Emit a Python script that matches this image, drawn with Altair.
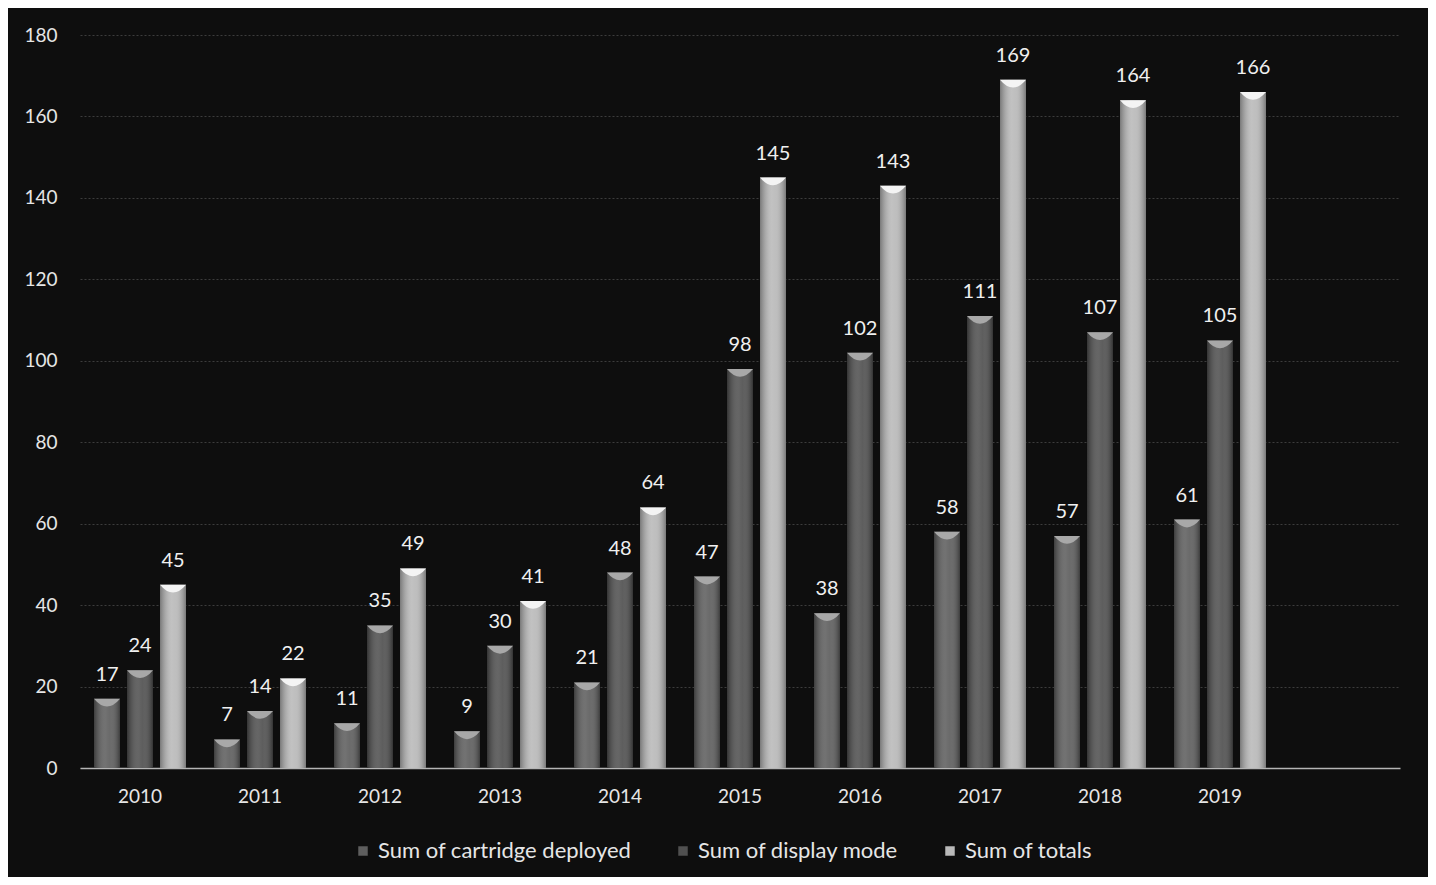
import altair as alt
import pandas as pd

years = ["2010", "2011", "2012", "2013", "2014", "2015", "2016", "2017", "2018", "2019"]
cartridge = [17, 7, 11, 9, 21, 47, 38, 58, 57, 61]
display = [24, 14, 35, 30, 48, 98, 102, 111, 107, 105]
totals = [45, 22, 49, 41, 64, 145, 143, 169, 164, 166]
series_names = ["Sum of cartridge deployed", "Sum of display mode", "Sum of totals"]
x_domain = years + [" "]
y_ticks = [0, 20, 40, 60, 80, 100, 120, 140, 160, 180]

rows = []
for name, vals in zip(series_names, [cartridge, display, totals]):
    for yr, v in zip(years, vals):
        rows.append({"year": yr, "series": name, "value": v})
df = pd.DataFrame(rows)

FONT = "Lato"

x_enc = alt.X("year:N", scale=alt.Scale(domain=x_domain, paddingInner=0.175, paddingOuter=0.0875),
              axis=alt.Axis(title=None, labelAngle=0, labelFontSize=19, labelColor="#e6e6e6",
                            labelFont=FONT, labelPadding=19, ticks=False, domainColor="#b5b5b5",
                            domainWidth=1.5, grid=False))
xo_enc = alt.XOffset("series:N", sort=series_names,
                     scale=alt.Scale(domain=series_names, paddingInner=0.212, paddingOuter=0.106))
y_enc = alt.Y("value:Q", scale=alt.Scale(domain=[0, 180], nice=False),
              axis=alt.Axis(title=None, values=y_ticks, labelFontSize=19, labelColor="#e6e6e6",
                            labelFont=FONT, labelPadding=23, ticks=False, domain=False,
                            gridColor="#3c3c3c", gridDash=[2, 2], gridWidth=1))

base = alt.Chart(df)

bars = base.mark_bar().encode(
    x=x_enc, xOffset=xo_enc, y=y_enc,
    color=alt.Color("series:N", sort=series_names,
                    scale=alt.Scale(domain=series_names, range=["#5e5e5e", "#505050", "#b9b9b9"]),
                    legend=alt.Legend(title=None, orient="none", direction="horizontal",
                                      legendX=272, legendY=805, labelFontSize=22,
                                      labelColor="#e6e6e6", labelFont=FONT, symbolType="square",
                                      symbolSize=90, columnPadding=40, labelLimit=400,
                                      symbolStrokeWidth=0)),
)

shade = base.mark_bar(
    fill=alt.Gradient(gradient="linear", x1=0, x2=1, y1=0, y2=0,
                      stops=[alt.GradientStop(color="rgba(0,0,0,0.35)", offset=0),
                             alt.GradientStop(color="rgba(255,255,255,0.12)", offset=0.45),
                             alt.GradientStop(color="rgba(255,255,255,0.08)", offset=0.6),
                             alt.GradientStop(color="rgba(0,0,0,0.35)", offset=1)])
).encode(x=alt.X("year:N"), xOffset=alt.XOffset("series:N"), y=alt.Y("value:Q"))

caps = base.mark_point(
    shape="M -1 0 L 1 0 Q 0 1.2 -1 0 Z", filled=True, size=676, opacity=1, strokeWidth=0
).encode(
    x=alt.X("year:N"), xOffset=alt.XOffset("series:N"), y=alt.Y("value:Q"),
    fill=alt.condition(alt.datum.series == "Sum of totals", alt.value("#f4f4f4"), alt.value("#a8a8a8")),
)

labels = base.mark_text(baseline="bottom", dy=-14, fontSize=20, font=FONT, color="#f0f0f0").encode(
    x=alt.X("year:N"), xOffset=alt.XOffset("series:N"), y=alt.Y("value:Q"), text=alt.Text("value:Q"),
)

chart = alt.layer(bars, shade, caps, labels).properties(
    width=1320, height=733,
    autosize=alt.AutoSizeParams(type="none"),
    padding={"left": 72, "top": 27, "right": 28, "bottom": 109},
    background="#0e0e0e",
).configure_view(stroke=None)

chart.save("out.html", embed_options={"renderer": "svg", "actions": False})
